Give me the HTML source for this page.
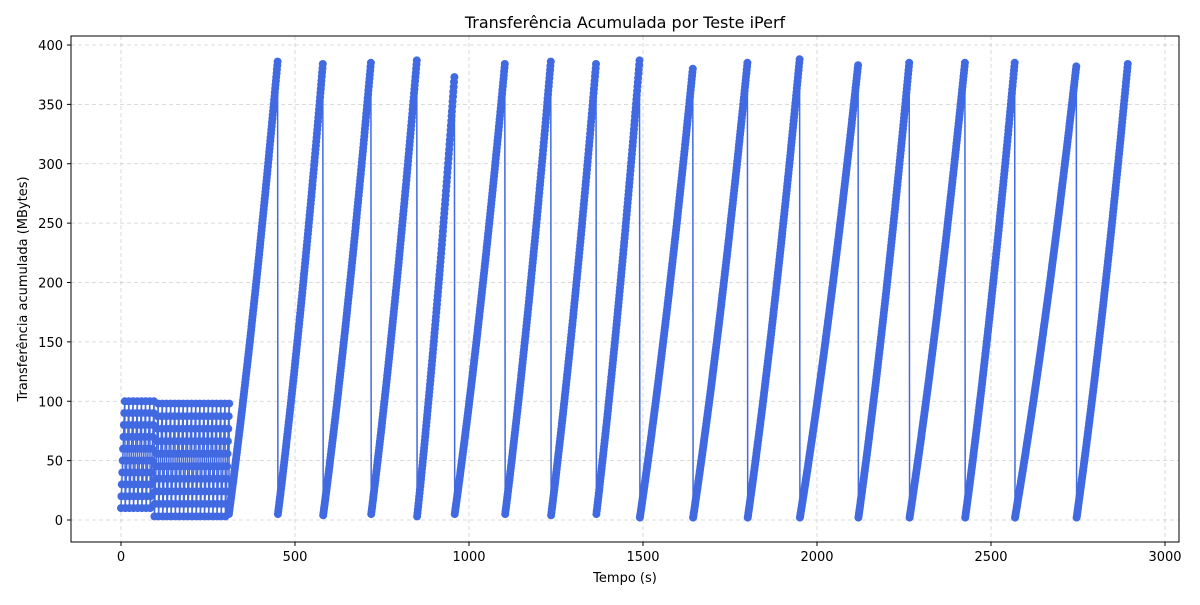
<!DOCTYPE html>
<html><head><meta charset="utf-8"><style>
body{margin:0;background:#fff;font-family:"Liberation Sans","DejaVu Sans",sans-serif;}
svg text{font-family:"DejaVu Sans","Liberation Sans",sans-serif;fill:#000;}
</style></head><body>
<svg id="chart" width="1200" height="600" xmlns="http://www.w3.org/2000/svg">
<rect width="1200" height="600" fill="#fff"/>
<text x="625" y="28" font-size="16" text-anchor="middle">Transferência Acumulada por Teste iPerf</text>
<g id="grid"></g>
<g id="series"></g>
<rect x="71" y="36" width="1108" height="506" fill="none" stroke="#000" stroke-width="1"/>
<g id="axes"></g>
<text x="625" y="582" font-size="13" text-anchor="middle">Tempo (s)</text>
<text x="27" y="289" font-size="13" text-anchor="middle" transform="rotate(-90 27 289)">Transferência acumulada (MBytes)</text>
</svg>
<script>
const xTicks = [0,500,1000,1500,2000,2500,3000];
const yTicks = [0,50,100,150,200,250,300,350,400];
const cycleStarts = [310,451,581,719,851,959,1104,1236,1366,1491,1644,1801,1951,2119,2266,2426,2569,2746];
const cycleEnds   = [450,580,718,850,958,1103,1235,1365,1490,1643,1800,1950,2118,2265,2425,2568,2745,2893];
const cyclePeaks  = [386,384,385,387,373,384,386,384,387,380,385,388,383,385,385,385,382,384];
const cycleLows   = [5,5,4,5,3,5,5,4,5,2,2,2,2,2,2,2,2,2];
const burstStarts = [0,12,24,36,48,60,72,84,96,108,120,132,144,156,168,180,192,204,216,228,240,252,264,276,288,300];
const burstLows   = [10,10,10,10,10,10,10,10,3,3,3,3,3,3,3,3,3,3,3,3,3,3,3,3,3,3];
const burstPeaks  = [100,100,100,100,100,100,100,100,98,98,98,98,98,98,98,98,98,98,98,98,98,98,98,98,98,98];

const X = v => 121 + v*0.348;
const Y = v => 520 - v*1.1875;
const NS = "http://www.w3.org/2000/svg";
const grid = document.getElementById('grid'), axes = document.getElementById('axes'), ser = document.getElementById('series');
function mk(tag, attrs, parent){const e=document.createElementNS(NS,tag);for(const k in attrs)e.setAttribute(k,attrs[k]);parent.appendChild(e);return e;}
xTicks.forEach(t=>{
  const gl=mk('line',{x1:X(t),x2:X(t),y1:36,y2:542,stroke:'#b0b0b0','stroke-width':0.8,'stroke-dasharray':'4,3',opacity:0.6},grid);
  
  
  mk('line',{x1:X(t),x2:X(t),y1:542,y2:546,stroke:'#000'},axes);
  const tx=mk('text',{x:X(t),y:561,'font-size':13,'text-anchor':'middle'},axes);tx.textContent=t;
  
  
});
yTicks.forEach(t=>{
  const gl=mk('line',{x1:71,x2:1179,y1:Y(t),y2:Y(t),stroke:'#b0b0b0','stroke-width':0.8,'stroke-dasharray':'4,3',opacity:0.6},grid);
  
  
  mk('line',{x1:67,x2:71,y1:Y(t),y2:Y(t),stroke:'#000'},axes);
  const tx=mk('text',{x:63,y:Y(t)+5,'font-size':13,'text-anchor':'end'},axes);tx.textContent=t;
  
  
});
const pts=[];
burstStarts.forEach((s,i)=>{
  for(let k=0;k<10;k++){pts.push([s+k*1.2, burstLows[i]+(burstPeaks[i]-burstLows[i])*k/9]);}
});
cycleStarts.forEach((s,i)=>{
  const e=cycleEnds[i], n=Math.round(e-s);
  for(let k=0;k<=n;k++){const f=k/n;pts.push([s+(e-s)*f, cycleLows[i]+(cyclePeaks[i]-cycleLows[i])*(0.8*f+0.2*f*f)]);}
});
const path=mk('path',{d:'M'+pts.map(p=>X(p[0]).toFixed(1)+','+Y(p[1]).toFixed(1)).join('L'),fill:'none',stroke:'#4169e1','stroke-width':1.5},ser);


pts.forEach(p=>{
  const c=mk('circle',{cx:X(p[0]).toFixed(1),cy:Y(p[1]).toFixed(1),r:4,fill:'#4169e1'},ser);
  
  
});
</script>
</body></html>
